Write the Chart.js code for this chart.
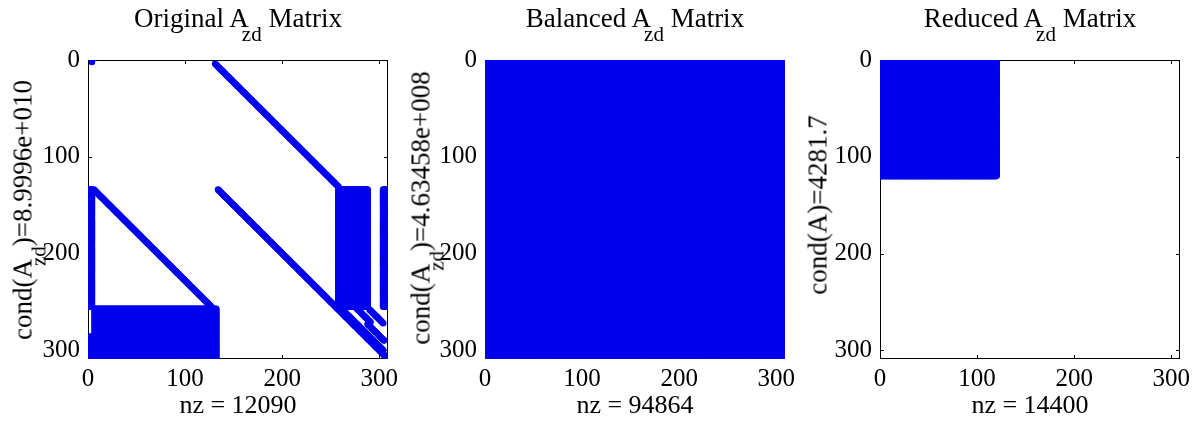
<!DOCTYPE html>
<html>
<head>
<meta charset="utf-8">
<script src="https://cdn.jsdelivr.net/npm/chart.js@4.4.1/dist/chart.umd.min.js"></script>
<style>
  body { margin: 0; background: #fff; }
  #wrap { position: relative; width: 1204px; height: 424px; overflow: hidden;
          font-family: 'Liberation Serif', 'Times New Roman', serif; color: #000; }
  canvas { position: absolute; top: 0; }
  .title { position: absolute; top: 5px; width: 300px; text-align: center;
           font-size: 27px; line-height: 27px; white-space: nowrap; }
  .ylabel { position: absolute; font-size: 27px; line-height: 27px; white-space: nowrap;
            transform: translate(-50%, -50%) rotate(-90deg); }
  .sub { position: relative; top: 14px; font-size: 21px; line-height: 0; margin-left: -7px; }
</style>
</head>
<body>
<div id="wrap"></div>
<script>
// sparsity patterns, 1-based (row, col) indices of a 308 x 308 matrix
const matrixSize = 308;
const axisTicks = [0, 100, 200, 300];

const panelTitles = ['Original A_{zd} Matrix', 'Balanced A_{zd} Matrix', 'Reduced A_{zd} Matrix'];
const condLabels = ['cond(A_{zd})=8.9996e+010', 'cond(A_{zd})=4.63458e+008', 'cond(A)=4281.7'];
const nzCounts = [12090, 94864, 14400];

// dense blocks: [firstRow, lastRow, firstCol, lastCol]
const originalBlocks = [
  [2, 2, 4, 4],
  [134, 255, 1, 4],
  [257, 308, 7, 132],
  [286, 308, 1, 6],
  [134, 255, 258, 288],
  [134, 255, 304, 308]
];
// diagonal runs: [firstRow, lastRow, colOffset]  (col = row + offset)
const originalDiagonals = [
  [4, 131, 127],
  [134, 255, -128],
  [134, 308, 0],
  [256, 300, 4],
  [258, 272, 32],
  [273, 290, 15],
  [256, 271, 20]
];
const balancedBlocks = [[1, 308, 1, 308]];
const balancedDiagonals = [];
const reducedBlocks = [[1, 120, 1, 120]];
const reducedDiagonals = [];

const panelBlocks = [originalBlocks, balancedBlocks, reducedBlocks];
const panelDiagonals = [originalDiagonals, balancedDiagonals, reducedDiagonals];

// layout
const canvasLeft = [0, 397, 792];
const canvasWidth = 404;
const ylabelPos = [[23, 210], [421, 208], [818, 205]];
const serif = "'Liberation Serif', 'Times New Roman', serif";
const spyColor = '#0202ee';

function texHtml(s) {
  return s.replace(/_\{(\w+)\}/g, '<span class="sub">$1</span>');
}

function spyPoints(blocks, diagonals) {
  const pts = [];
  blocks.forEach(([r0, r1, c0, c1]) => {
    for (let r = r0; r <= r1; r++) {
      for (let c = c0; c <= c1; c++) pts.push({ x: c, y: r });
    }
  });
  diagonals.forEach(([r0, r1, off]) => {
    for (let r = r0; r <= r1; r++) pts.push({ x: r + off, y: r });
  });
  return pts;
}

// box around the axes with inward tick marks, drawn under the markers
const framePlugin = {
  id: 'frame',
  beforeDatasetsDraw(chart) {
    const { ctx, chartArea: a, scales: { x, y } } = chart;
    const len = 4;
    ctx.save();
    ctx.strokeStyle = '#000';
    ctx.lineWidth = 1;
    ctx.strokeRect(a.left + 0.5, a.top + 0.5, a.width - 1, a.height - 1);
    ctx.beginPath();
    axisTicks.forEach(v => {
      const px = Math.round(x.getPixelForValue(v)) + 0.5;
      ctx.moveTo(px, a.bottom); ctx.lineTo(px, a.bottom - len);
      ctx.moveTo(px, a.top); ctx.lineTo(px, a.top + len);
      const py = Math.round(y.getPixelForValue(v)) + 0.5;
      ctx.moveTo(a.left, py); ctx.lineTo(a.left + len, py);
      ctx.moveTo(a.right, py); ctx.lineTo(a.right - len, py);
    });
    ctx.stroke();
    ctx.restore();
  }
};

const wrap = document.getElementById('wrap');
const setTicks = s => { s.ticks = axisTicks.map(v => ({ value: v })); };

for (let i = 0; i < 3; i++) {
  const canvas = document.createElement('canvas');
  canvas.width = canvasWidth;
  canvas.height = 424;
  canvas.style.left = canvasLeft[i] + 'px';
  wrap.appendChild(canvas);

  const title = document.createElement('div');
  title.className = 'title';
  title.style.left = (canvasLeft[i] + 88) + 'px';
  title.innerHTML = texHtml(panelTitles[i]);
  wrap.appendChild(title);

  const ylabel = document.createElement('div');
  ylabel.className = 'ylabel';
  ylabel.style.left = ylabelPos[i][0] + 'px';
  ylabel.style.top = ylabelPos[i][1] + 'px';
  ylabel.innerHTML = texHtml(condLabels[i]);
  wrap.appendChild(ylabel);

  new Chart(canvas.getContext('2d'), {
    type: 'scatter',
    data: {
      datasets: [{
        data: spyPoints(panelBlocks[i], panelDiagonals[i]),
        pointRadius: 3.3,
        pointBorderWidth: 0,
        pointHoverRadius: 0,
        pointBackgroundColor: spyColor,
        showLine: false
      }]
    },
    options: {
      responsive: false,
      animation: false,
      devicePixelRatio: 1,
      parsing: false,
      normalized: true,
      events: [],
      layout: { padding: { top: 60, right: canvasWidth - 388, left: 0, bottom: 0 } },
      plugins: { legend: { display: false }, tooltip: { enabled: false } },
      scales: {
        x: {
          type: 'linear', position: 'bottom', min: 0, max: matrixSize + 1,
          grid: { display: false, drawTicks: false }, border: { display: false },
          ticks: { font: { family: serif, size: 25 }, color: '#000', padding: 5, maxRotation: 0 },
          afterBuildTicks: setTicks,
          afterFit: s => { s.height = 65; s.paddingLeft = 0; s.paddingRight = 0; },
          title: {
            display: true, text: 'nz = ' + nzCounts[i], color: '#000',
            font: { family: serif, size: 26 }, padding: { top: 0, bottom: 2 }
          }
        },
        y: {
          type: 'linear', position: 'left', reverse: true, min: 0, max: matrixSize + 1,
          grid: { display: false, drawTicks: false }, border: { display: false },
          ticks: { font: { family: serif, size: 25 }, color: '#000', padding: 8 },
          afterBuildTicks: setTicks,
          afterFit: s => { s.width = 88; s.paddingTop = 0; s.paddingBottom = 0; }
        }
      }
    },
    plugins: [framePlugin]
  });
}
</script>
</body>
</html>
